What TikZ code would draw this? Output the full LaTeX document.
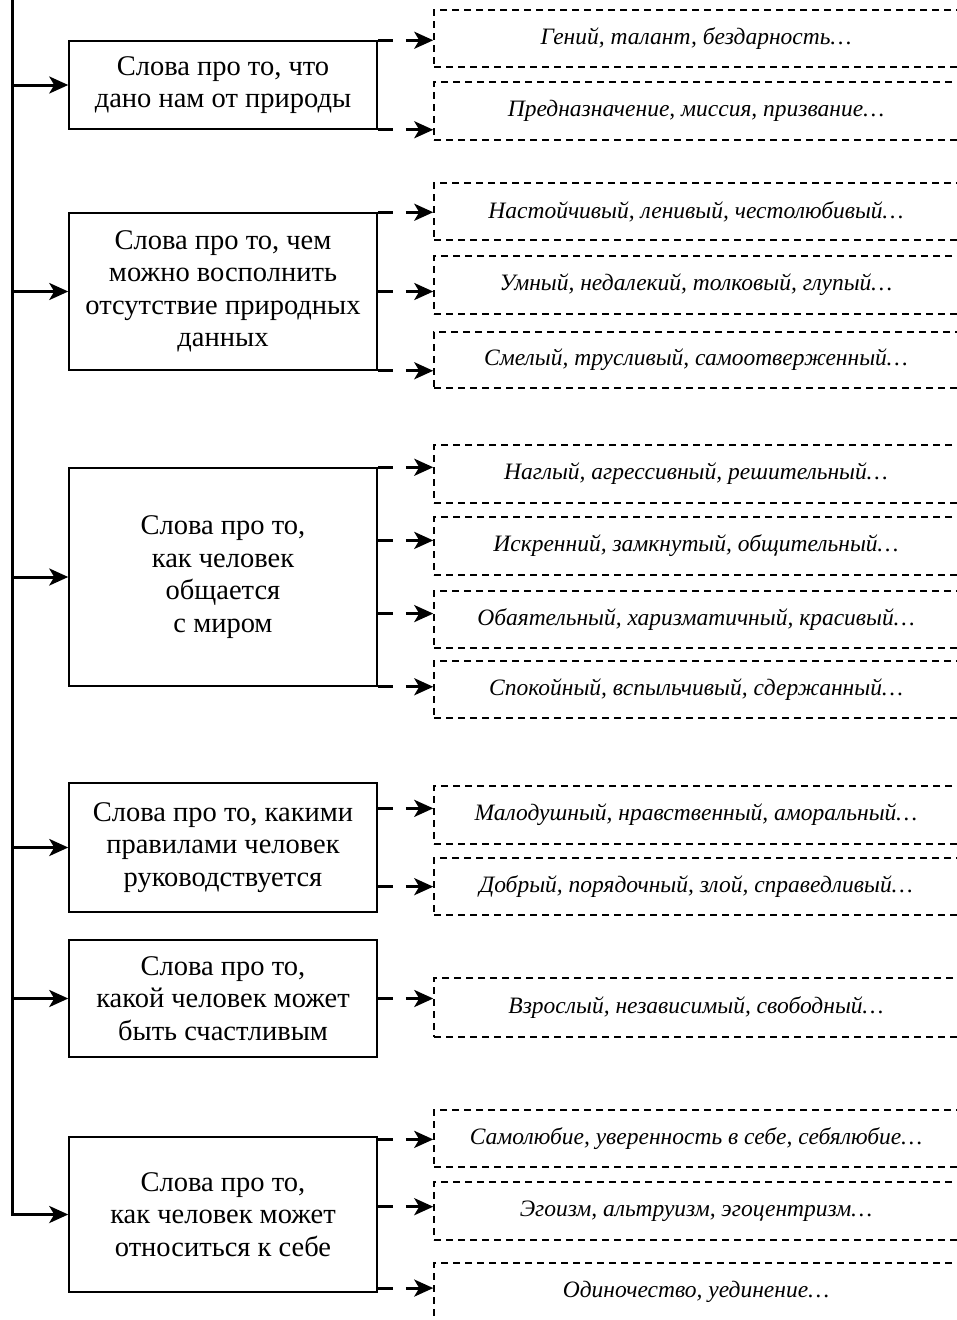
\documentclass[tikz,border=0pt]{standalone}
\usepackage{fontspec}
\setmainfont{Liberation Serif}
\usetikzlibrary{arrows.meta,calc}

\tikzset{
  mainbox/.style={draw, line width=1.5pt, minimum width=308pt, align=center, inner sep=2pt, font=\fontsize{28.5}{32.5}\selectfont},
  leafbox/.style={draw, line width=1.5pt, dash pattern=on 7pt off 5pt, minimum width=524pt, align=center, font=\fontsize{23.5}{28}\selectfont\itshape},
  feed/.style={line width=3pt, -{Stealth[length=19pt,width=17pt,inset=5pt]}},
  link/.style={feed, dash pattern=on 15pt off 13pt on 60pt},
}

\begin{document}
\begin{tikzpicture}[x=1pt,y=-1pt]
            \useasboundingbox (0,0) rectangle (957,1320);
            \clip (0,0) rectangle (957,1320);

            % Draw main boxes
            \node[mainbox, minimum height=88pt] (b1) at (223,85) {Слова про то, что\\дано нам от природы};
            \node[mainbox, minimum height=157pt] (b2) at (223,291.5) {Слова про то, чем\\можно восполнить\\отсутствие природных\\данных};
            \node[mainbox, minimum height=218pt] (b3) at (223,577) {Слова про то,\\как человек\\общается\\с миром};
            \node[mainbox, minimum height=129pt] (b4) at (223,847.5) {Слова про то, какими\\правилами человек\\руководствуется};
            \node[mainbox, minimum height=117pt] (b5) at (223,998.5) {Слова про то,\\какой человек может\\быть счастливым};
            \node[mainbox, minimum height=155pt] (b6) at (223,1214.5) {Слова про то,\\как человек может\\относиться к себе};

            % Draw dashed boxes with examples
            \node[leafbox, minimum height=57pt] (d11) at (696,38.5) {Гений, талант, бездарность…};
            \node[leafbox, minimum height=58pt] (d12) at (696,111) {Предназначение, миссия, призвание…};

            \node[leafbox, minimum height=57pt] (d21) at (696,211.5) {Настойчивый, ленивый, честолюбивый…};
            \node[leafbox, minimum height=58pt] (d22) at (696,285) {Умный, недалекий, толковый, глупый…};
            \node[leafbox, minimum height=56pt] (d23) at (696,360) {Смелый, трусливый, самоотверженный…};

            \node[leafbox, minimum height=58pt] (d31) at (696,474) {Наглый, агрессивный, решительный…};
            \node[leafbox, minimum height=58pt] (d32) at (696,546) {Искренний, замкнутый, общительный…};
            \node[leafbox, minimum height=57pt] (d33) at (696,619.5) {Обаятельный, харизматичный, красивый…};
            \node[leafbox, minimum height=57pt] (d34) at (696,689.5) {Спокойный, вспыльчивый, сдержанный…};

            \node[leafbox, minimum height=58pt] (d41) at (696,815) {Малодушный, нравственный, аморальный…};
            \node[leafbox, minimum height=57pt] (d42) at (696,886.5) {Добрый, порядочный, злой, справедливый…};

            \node[leafbox, minimum height=59pt] (d51) at (696,1007.5) {Взрослый, независимый, свободный…};

            \node[leafbox, minimum height=57pt] (d61) at (696,1138.5) {Самолюбие, уверенность в себе, себялюбие…};
            \node[leafbox, minimum height=58pt] (d62) at (696,1211) {Эгоизм, альтруизм, эгоцентризм…};
            \node[leafbox, minimum height=58pt] (d63) at (696,1292) {Одиночество, уединение…};

            % Draw trunk and arrows to main boxes
            \coordinate (top) at (12,-5);
            \draw[feed] (top) |- (b6.west);
            \draw[feed] (top |- b1.west) -- (b1.west);
            \draw[feed] (top |- b2.west) -- (b2.west);
            \draw[feed] (top |- b3.west) -- (b3.west);
            \draw[feed] (top |- b4.west) -- (b4.west);
            \draw[feed] (top |- b5.west) -- (b5.west);

            % Draw links to dashed boxes
            \draw[link] (b1.north east) -- (d11.west |- b1.north east);
            \draw[link] (b1.south east) -- (d12.west |- b1.south east);

            \draw[link] (b2.north east) -- (d21.west |- b2.north east);
            \draw[link] (b2.east) -- (d22.west |- b2.east);
            \draw[link] (b2.south east) -- (d23.west |- b2.south east);

            \draw[link] (b3.north east) -- (d31.west |- b3.north east);
            \draw[link] ($(b3.north east)!1/3!(b3.south east)$) coordinate (c32) -- (d32.west |- c32);
            \draw[link] ($(b3.north east)!2/3!(b3.south east)$) coordinate (c33) -- (d33.west |- c33);
            \draw[link] (b3.south east) -- (d34.west |- b3.south east);

            \draw[link] ($(b4.north east)!0.2!(b4.south east)$) coordinate (c41) -- (d41.west |- c41);
            \draw[link] ($(b4.north east)!0.8!(b4.south east)$) coordinate (c42) -- (d42.west |- c42);

            \draw[link] (b5.east) -- (d51.west |- b5.east);

            \draw[link] ($(b6.north east)!0.02!(b6.south east)$) coordinate (c61) -- (d61.west |- c61);
            \draw[link] ($(b6.north east)!0.45!(b6.south east)$) coordinate (c62) -- (d62.west |- c62);
            \draw[link] ($(b6.north east)!0.97!(b6.south east)$) coordinate (c63) -- (d63.west |- c63);
        \end{tikzpicture}
\end{document}
